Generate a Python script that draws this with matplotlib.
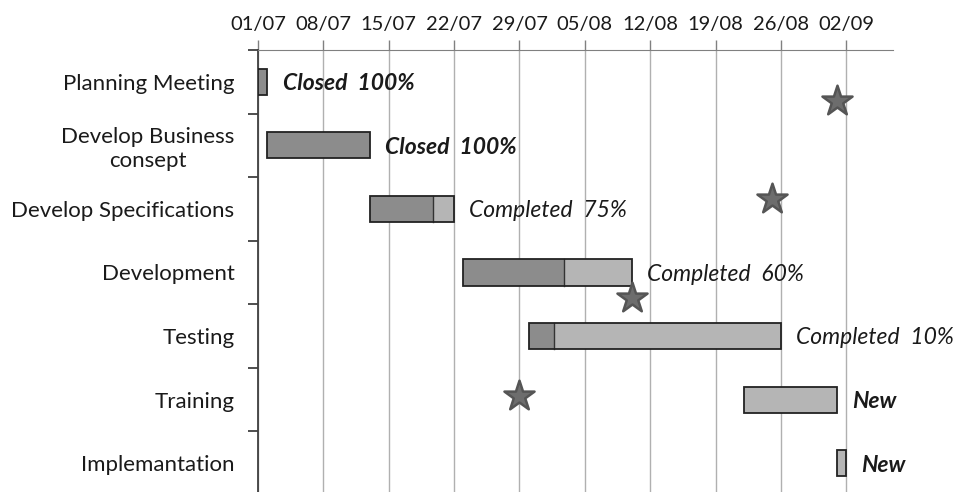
import datetime as dt
import matplotlib.pyplot as plt
import matplotlib.dates as mdates
from matplotlib.ticker import FixedLocator

plt.rcParams['font.family'] = ['Lato', 'DejaVu Sans']

# project tasks
tasks = ['Planning Meeting', 'Develop Business\nconsept', 'Develop Specifications',
         'Development', 'Testing', 'Training', 'Implemantation']
starts = ['2013-07-01', '2013-07-02', '2013-07-13', '2013-07-23',
          '2013-07-30', '2013-08-22', '2013-09-01']
durations = [1, 11, 9, 18, 27, 10, 1]
complete = [100, 100, 75, 60, 10, 0, 0]
status = ['Closed', 'Closed', 'Completed', 'Completed', 'Completed', 'New', 'New']

# milestones (date, row position)
ms_dates = ['2013-09-01', '2013-08-25', '2013-08-10', '2013-07-29']
ms_rows = [0.3, 1.85, 3.4, 4.95]

week_ticks = ['2013-07-01', '2013-07-08', '2013-07-15', '2013-07-22', '2013-07-29',
              '2013-08-05', '2013-08-12', '2013-08-19', '2013-08-26', '2013-09-02']

done_col = '#8c8c8c'
todo_col = '#b5b5b5'

fig = plt.figure(figsize=(9.61, 4.92), dpi=100)
ax = fig.add_axes([258 / 961, -0.006, 635 / 961, 1 - 50 / 492 + 0.006])

d0 = lambda s: mdates.date2num(dt.datetime.strptime(s, '%Y-%m-%d'))

for i, (s, d, c, st) in enumerate(zip(starts, durations, complete, status)):
    x0 = d0(s)
    done = d * c / 100
    if done > 0:
        ax.barh(i, done, left=x0, height=0.41, color=done_col, edgecolor='none', zorder=3)
    if done < d:
        ax.barh(i, d - done, left=x0 + done, height=0.41, color=todo_col, edgecolor='none', zorder=3)
    if 0 < done < d:
        ax.plot([x0 + done, x0 + done], [i - 0.205, i + 0.205], color='#333333', lw=1, zorder=4)
    # outline of the whole task
    ax.barh(i, d, left=x0, height=0.41, color='none', edgecolor='#222222', lw=1.3, zorder=4)
    if st == 'New':
        txt, wt = 'New', 'bold'
    elif st == 'Closed':
        txt, wt = f'Closed  {c}%', 'bold'
    else:
        txt, wt = f'Completed  {c}%', 'normal'
    ax.annotate(txt, (x0 + d, i + 0.03), xytext=(11, 0), textcoords='offset points',
                va='center', ha='left', fontsize=16.5, style='italic', weight=wt,
                color='#1a1a1a', zorder=5)

ax.scatter([d0(m) for m in ms_dates], ms_rows, marker='*', s=520,
           color='#6d6d6d', edgecolor='#555555', linewidth=1.8, zorder=6)

ax.set_xlim(d0('2013-07-01'), d0('2013-07-01') + 68)
ax.set_ylim(6.5, -0.5)

ax.xaxis.tick_top()
ax.set_xticks([d0(t) for t in week_ticks])
ax.xaxis.set_major_formatter(mdates.DateFormatter('%d/%m'))
ax.tick_params(axis='x', which='major', length=7, width=1, color='#808080',
               labelsize=14.5, pad=5, labelcolor='#1a1a1a')
ax.grid(axis='x', color='#b0b0b0', lw=1, zorder=0)

ax.set_yticks(range(len(tasks)))
ax.set_yticklabels(tasks, fontsize=16, color='#1a1a1a', multialignment='center')
ax.yaxis.set_minor_locator(FixedLocator([i - 0.5 for i in range(len(tasks) + 1)]))
ax.tick_params(axis='y', which='major', length=0, pad=17)
ax.tick_params(axis='y', which='minor', length=7, width=1.3, color='#404040')

ax.spines['right'].set_visible(False)
ax.spines['bottom'].set_visible(False)
ax.spines['top'].set_color('#808080')
ax.spines['left'].set_color('#404040')
ax.spines['left'].set_linewidth(1.3)

fig.savefig('out.png', dpi=100)
